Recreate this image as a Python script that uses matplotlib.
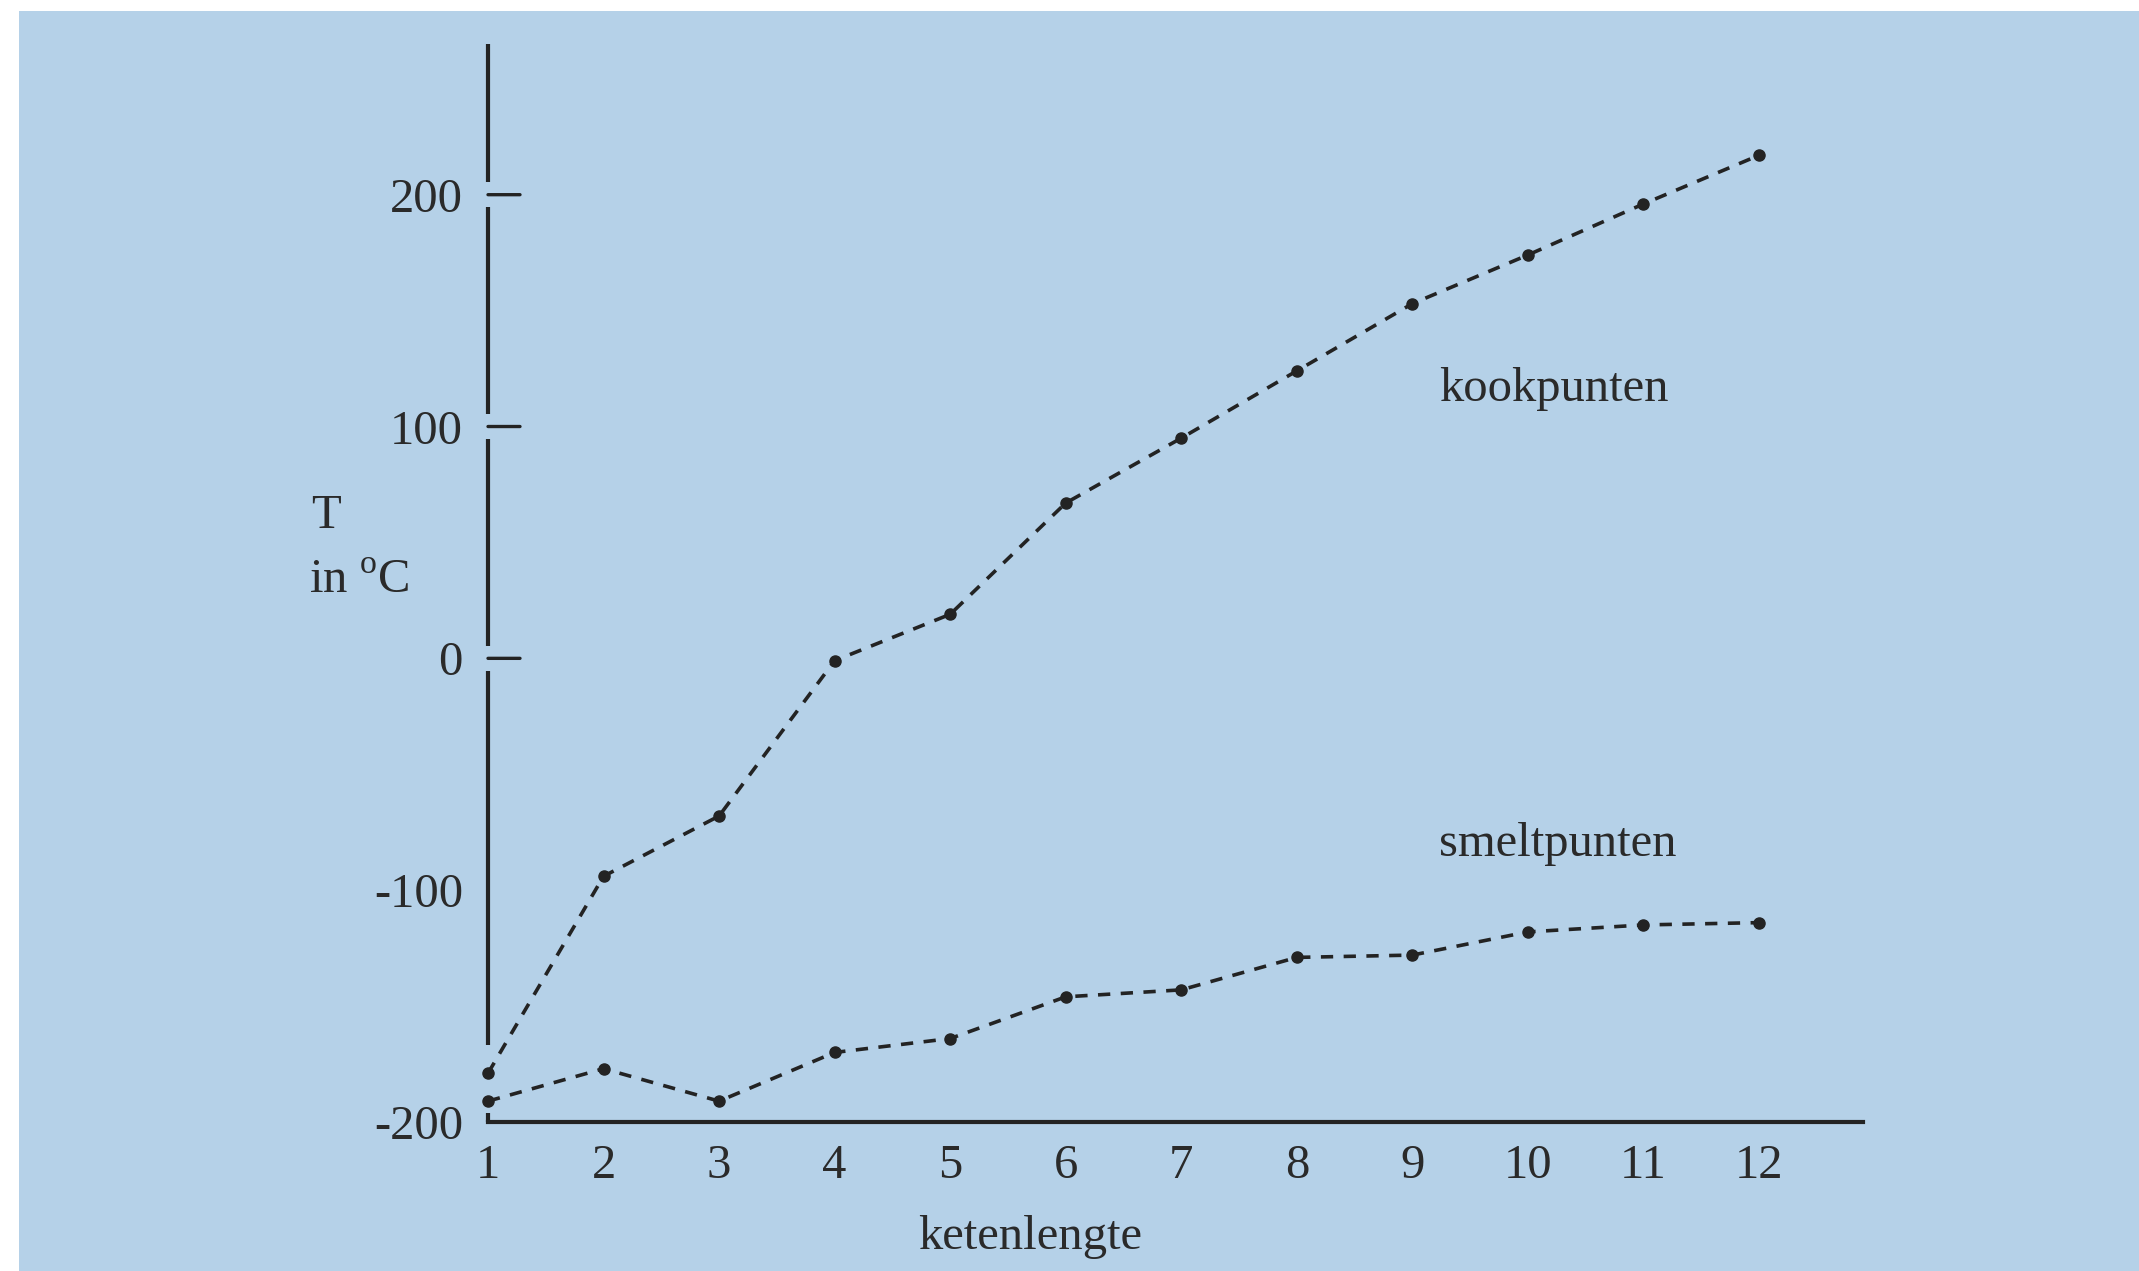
import matplotlib
matplotlib.use("Agg")
import matplotlib.pyplot as plt
from matplotlib.patches import Rectangle

# ---- data ----
ketenlengte = [1, 2, 3, 4, 5, 6, 7, 8, 9, 10, 11, 12]
kookpunten = [-179, -94, -68, -1, 19, 67, 95, 124, 153, 174, 196, 217]
smeltpunten = [-191, -177, -191, -170, -164, -146, -143, -129, -128, -118, -115, -114]
y_ticks = [0, 100, 200]
y_labels = [-200, -100, 0, 100, 200]
x_labels = ketenlengte

BG = "#b5d1e8"
INK = "#232323"
TXT = "#2a2a2a"

plt.rcParams["font.family"] = ["Liberation Serif", "DejaVu Serif"]
plt.rcParams["mathtext.fontset"] = "custom"
plt.rcParams["mathtext.rm"] = "Liberation Serif"

W, H = 2139, 1271
fig = plt.figure(figsize=(W / 100, H / 100), dpi=100)
fig.patch.set_facecolor("white")
fig.patches.append(Rectangle((19 / W, 0), 1, 1 - 11 / H, transform=fig.transFigure,
                             facecolor=BG, edgecolor="none", zorder=-10))

ax = fig.add_axes([488 / W, 149 / H, (1863 - 488) / W, (1122 - 44) / H])
ax.set_zorder(5)
ax.set_facecolor("none")
ax.set_xlim(1, 12.9)
ax.set_ylim(-200, 265)

for s in ["top", "right", "left"]:
    ax.spines[s].set_visible(False)
ax.spines["bottom"].set_linewidth(3.0)
ax.spines["bottom"].set_color(INK)

# left axis line with small gaps around tick marks and near the first data points
gap = 5.5
segs = [(-200, -196), (-167, 0 - gap)]
prev = 0 + gap
for t in y_ticks[1:]:
    segs.append((prev, t - gap))
    prev = t + gap
segs.append((prev, 265))
for a, b in segs:
    ax.plot([1, 1], [a, b], color=INK, lw=3.0, clip_on=False, solid_capstyle="butt", zorder=3)

# y tick marks (inward)
for t in y_ticks:
    ax.annotate("", xy=(1, t), xytext=(32, 0), textcoords="offset pixels",
                arrowprops=dict(arrowstyle="-", color=INK, lw=2.4, shrinkA=0, shrinkB=0))

ax.set_yticks(y_labels)
ax.set_yticklabels([str(v) for v in y_labels])
ax.tick_params(axis="y", length=0, pad=18, labelsize=35, labelcolor=TXT)
ax.set_xticks(x_labels)
ax.set_xticklabels([str(v) for v in x_labels])
ax.tick_params(axis="x", length=0, pad=16, labelsize=35, labelcolor=TXT)

ls = (0, (3.4, 2.9))
ax.plot(ketenlengte, kookpunten, color=INK, lw=2.6, linestyle=ls, marker="o",
        markersize=8, clip_on=False, zorder=4)
ax.plot(ketenlengte, smeltpunten, color=INK, lw=2.6, linestyle=ls, marker="o",
        markersize=8, clip_on=False, zorder=4)

ax.text(9.23, 116, "kookpunten", fontsize=35, color=TXT, ha="left", va="center")
ax.text(9.23, -80, "smeltpunten", fontsize=35, color=TXT, ha="left", va="center")

fig.text(1030 / W, 1 - 1237 / H, "ketenlengte", fontsize=35, color=TXT, ha="center", va="center")
fig.text(311 / W, 1 - 516 / H, "T", fontsize=35, color=TXT, ha="left", va="center")
fig.text(309 / W, 1 - 580 / H, r"in $^{\mathrm{o}}$C", fontsize=35, color=TXT, ha="left", va="center")

fig.savefig("out.png", dpi=100, facecolor=fig.get_facecolor())
